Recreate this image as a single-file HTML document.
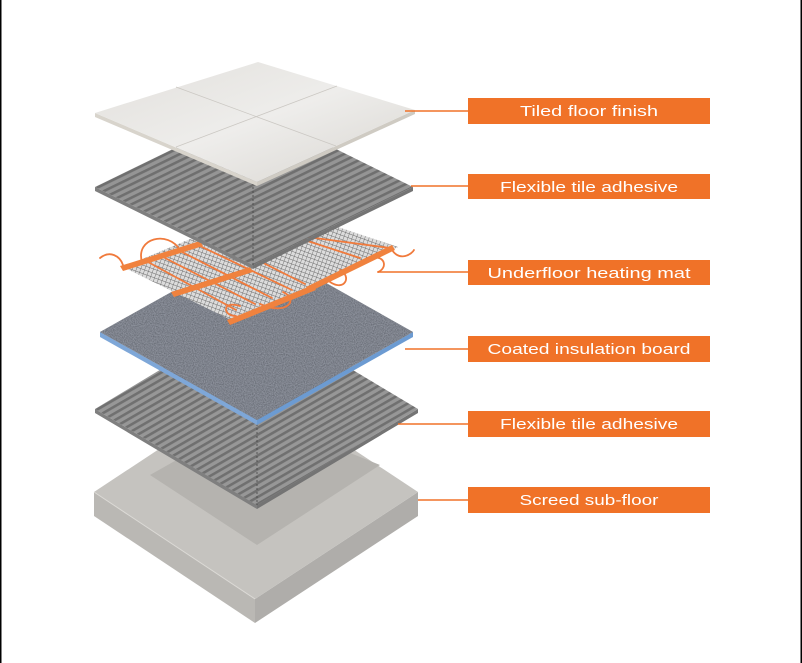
<!DOCTYPE html>
<html><head><meta charset="utf-8"><style>
html,body{margin:0;padding:0;background:#fff}
svg{display:block}
</style></head><body>
<svg width="802" height="663" viewBox="0 0 802 663" xmlns="http://www.w3.org/2000/svg">
<defs>
<pattern id="ridge1" width="6" height="6" patternUnits="userSpaceOnUse" patternTransform="rotate(-26)">
<rect width="6" height="6" fill="#959595"/><rect width="6" height="2.6" fill="#6f6f6f"/>
</pattern>
<pattern id="ridge2" width="6" height="6" patternUnits="userSpaceOnUse" patternTransform="rotate(-30)">
<rect width="6" height="6" fill="#979797"/><rect width="6" height="2.6" fill="#707070"/>
</pattern>
<pattern id="mesh" width="4" height="4" patternUnits="userSpaceOnUse" patternTransform="rotate(20)">
<rect width="4" height="4" fill="#dcdcdc"/><path d="M0 0H4M0 0V4" stroke="#6a6a6a" stroke-width="0.9"/>
</pattern>
<filter id="grain" x="0" y="0" width="100%" height="100%">
<feTurbulence type="fractalNoise" baseFrequency="0.9" numOctaves="2" seed="3" result="n"/>
<feColorMatrix in="n" type="matrix" values="0 0 0 0 0.30  0 0 0 0 0.32  0 0 0 0 0.37  0 0 0 1.4 -0.2" result="c"/>
<feComposite in="c" in2="SourceGraphic" operator="in" result="g"/>
<feMerge><feMergeNode in="SourceGraphic"/><feMergeNode in="g"/></feMerge>
</filter>
<linearGradient id="tileg" x1="0" y1="0" x2="1" y2="1">
<stop offset="0" stop-color="#e2e0dc"/><stop offset="0.5" stop-color="#eeedeb"/><stop offset="1" stop-color="#d8d5d0"/>
</linearGradient>
</defs>

<rect x="0" y="0" width="1.5" height="663" fill="#000"/>
<rect x="800.5" y="0" width="1.5" height="663" fill="#000"/>

<!-- Screed -->
<polygon points="94,492 255,599 255,623 94,516" fill="#bab8b4"/>
<polygon points="255,599 418,492 418,516 255,623" fill="#afadaa"/>
<polygon points="94,492 256,385 418,492 255,599" fill="#c5c3bf"/>
<polygon points="150,475 256,415 380,465 257,545" fill="#b5b3af"/>
<line x1="94" y1="492" x2="255" y2="599" stroke="#dcdad6" stroke-width="1"/>

<!-- Adhesive 2 -->
<polygon points="95,409 257,505 257,509 95,413" fill="#7f7f7f"/>
<polygon points="257,505 418,409 418,413 257,509" fill="#747474"/>
<polygon points="95,409 256,312 418,409 257,505" fill="url(#ridge2)"/>
<line x1="257" y1="420" x2="257" y2="505" stroke="#444" stroke-width="0.8" stroke-dasharray="2,2"/>

<!-- Insulation board -->
<polygon points="100,332 257,420 257,425 100,337" fill="#7ea7d8"/>
<polygon points="257,420 413,332 413,337 257,425" fill="#6c9bd2"/>
<polygon points="100,332 257,244 413,332 257,420" fill="#62666f" filter="url(#grain)"/>

<!-- Heating mat -->
<polygon points="123,267 272,205 398,247 235,322" fill="url(#mesh)"/>
<g stroke="#f07a3c" stroke-width="1.8" fill="none" stroke-linecap="round">
<path d="M100,258 C110,250 120,256 123,265"/>
<path d="M142,262 C135,238 168,230 180,250"/>
<path d="M148,262 L236,310"/>
<path d="M165,258 L255,304"/>
<path d="M182,252 L272,298"/>
<path d="M200,246 L292,290"/>
<path d="M218,240 L305,284"/>
<path d="M236,316 C222,316 222,300 240,306"/>
<path d="M260,304 C286,316 300,300 283,292"/>
<path d="M300,236 L390,248"/>
<path d="M280,232 L360,258"/>
<path d="M330,282 C345,292 352,276 340,270"/>
<path d="M378,272 C388,268 385,255 372,258"/>
<path d="M392,250 C400,262 412,254 414,250"/>
</g>
<g fill="#f0823e">
<polygon points="120,266 200,241 203,246 123,271"/>
<polygon points="171,292 250,267 253,272 174,297"/>
<polygon points="227,320 313,285 316,290 230,325"/>
<polygon points="306,287 392,245 395,250 309,292"/>
</g>

<!-- Adhesive 1 -->
<polygon points="95,187 253,265 253,269 95,191" fill="#7f7f7f"/>
<polygon points="253,265 413,187 413,191 253,269" fill="#747474"/>
<polygon points="95,187 255,109 413,187 253,265" fill="url(#ridge1)"/>
<line x1="253" y1="183" x2="253" y2="265" stroke="#444" stroke-width="0.8" stroke-dasharray="2,2"/>

<!-- Tile -->
<polygon points="95,113 257,182 257,186 95,117" fill="#d8d4cc"/>
<polygon points="257,182 415,110 415,114 257,186" fill="#cfcbc3"/>
<polygon points="95,113 258,62 415,110 257,182" fill="url(#tileg)"/>
<line x1="176" y1="87" x2="336" y2="146" stroke="#cbc8c3" stroke-width="0.8"/>
<line x1="176" y1="147" x2="337" y2="86" stroke="#cbc8c3" stroke-width="0.8"/>

<g stroke="#f07228" stroke-width="1.5">
<line x1="405" y1="111" x2="468" y2="111"/>
<line x1="411" y1="186" x2="468" y2="186"/>
<line x1="378" y1="272" x2="468" y2="272"/>
<line x1="405" y1="349" x2="468" y2="349"/>
<line x1="398" y1="424" x2="468" y2="424"/>
<line x1="418" y1="500" x2="468" y2="500"/>
</g>

<g fill="#f07228">
<rect x="468" y="98" width="242" height="26"/>
<rect x="468" y="174" width="242" height="25"/>
<rect x="468" y="260" width="242" height="25"/>
<rect x="468" y="336" width="242" height="26"/>
<rect x="468" y="411" width="242" height="26"/>
<rect x="468" y="487" width="242" height="26"/>
</g>
<g fill="#fff" font-family="Liberation Sans, sans-serif" font-size="15" text-anchor="middle">
<text x="589" y="116" textLength="138" lengthAdjust="spacingAndGlyphs">Tiled floor finish</text>
<text x="589" y="192" textLength="178" lengthAdjust="spacingAndGlyphs">Flexible tile adhesive</text>
<text x="589" y="278" textLength="203" lengthAdjust="spacingAndGlyphs">Underfloor heating mat</text>
<text x="589" y="354" textLength="203" lengthAdjust="spacingAndGlyphs">Coated insulation board</text>
<text x="589" y="429" textLength="178" lengthAdjust="spacingAndGlyphs">Flexible tile adhesive</text>
<text x="589" y="505" textLength="139" lengthAdjust="spacingAndGlyphs">Screed sub-floor</text>
</g>
</svg>
</body></html>
